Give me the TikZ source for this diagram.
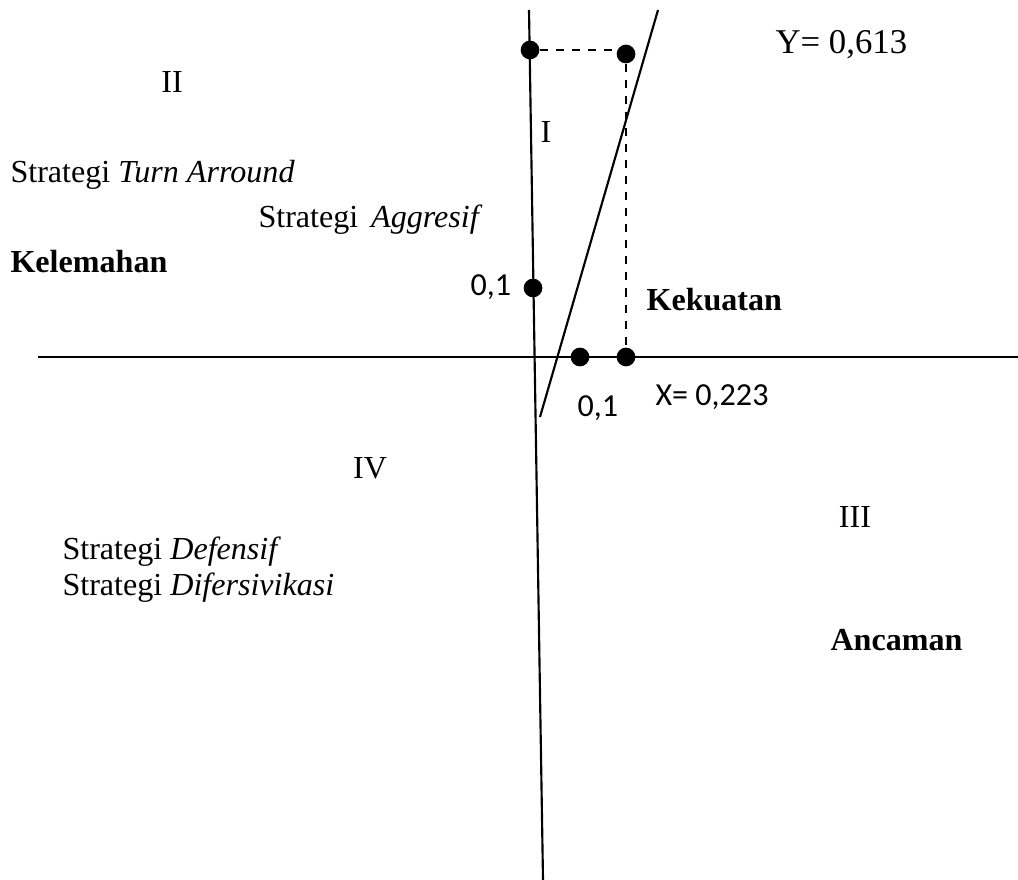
\documentclass[tikz,border=0pt]{standalone}
\usepackage{fontspec}
\setmainfont{Liberation Serif}
\newfontfamily\calfont{Carlito}
\usepackage{tikz}
\usetikzlibrary{calc}

\begin{document}
\begin{tikzpicture}[x=0.374pt, y=-0.374pt,
    lbl/.style={anchor=west, inner sep=0pt, font=\fontsize{12}{14}\selectfont},
    numlbl/.style={anchor=west, inner sep=0pt, font=\calfont\fontsize{12}{14}\selectfont},
    dot/.style={circle, fill=black, inner sep=0pt, minimum size=7pt}]
    % Frame
    \useasboundingbox (0,0) rectangle (1018,880);
    % Axes
    \coordinate (vtop) at (529,10);
    \coordinate (vbot) at (543,880);
    \coordinate (hleft) at (38,357);
    \coordinate (hright) at (1018,357);
    \coordinate (dtop) at (658,10);
    \coordinate (dbot) at (540,417);
    \draw[thick] (vtop) -- (vbot);
    \draw[thick] (hleft) -- (hright);
    \draw[thick] (dtop) -- (dbot);
    % Points
    \node[dot] (ytick) at (530,50) {};
    \node[dot] (ypt) at (626,54) {};
    \node[dot] (onetick) at (533,288) {};
    \node[dot] (xone) at (580,357) {};
    \node[dot] (xpt) at (626,357) {};
    \draw[dashed, thick] (ytick) -- (ypt.center |- ytick);
    \draw[dashed, thick] (ypt) -- (xpt);
    % Quadrant labels
    \node[lbl, anchor=center] (qII) at (172,82) {II};
    \node[lbl, anchor=center] (qI) at (546,132) {I};
    \node[lbl, anchor=center] (qIV) at (370,468) {IV};
    \node[lbl, anchor=center] (qIII) at (855,517) {III};
    % Texts
    \node[lbl, font=\fontsize{13}{15}\selectfont] (yval) at (775,45) {Y= 0,613};
    \node[lbl] (turn) at (10,175) {Strategi \textit{Turn Arround}};
    \node[lbl] (aggr) at (258,220) {Strategi\hspace{0.4em}\textit{Aggresif}};
    \node[lbl] (lemah) at (10,262) {\textbf{Kelemahan}};
    \node[numlbl] (ylbl) at (470,287) {0,1};
    \node[lbl] (kuat) at (646,300) {\textbf{Kekuatan}};
    \node[numlbl] (xval) at (655,397) {X= 0,223};
    \node[numlbl] (xlbl) at (577,408) {0,1};
    \node[lbl] (def) at (62,552) {Strategi \textit{Defensif}};
    \node[lbl] (dif) at (62,588) {Strategi \textit{Difersivikasi}};
    \node[lbl] (ancam) at (830,640) {\textbf{Ancaman}};
\end{tikzpicture}
\end{document}
